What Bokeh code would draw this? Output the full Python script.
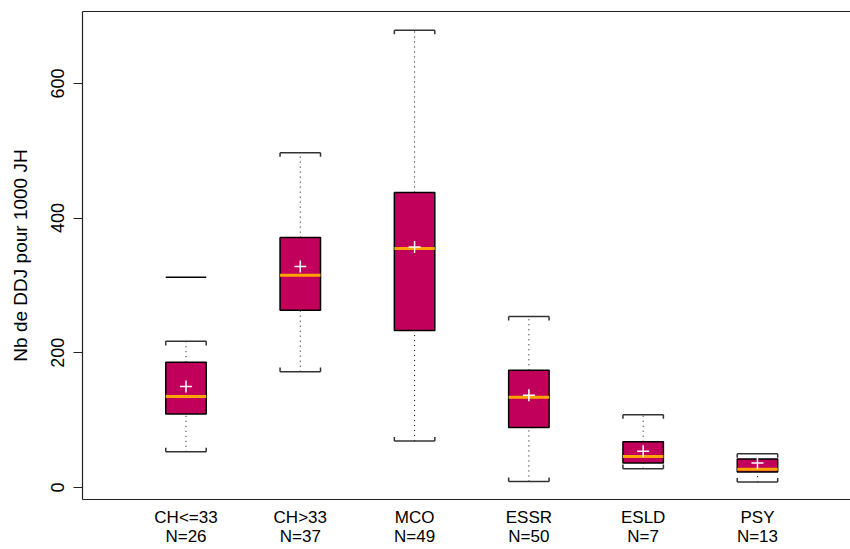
from bokeh.plotting import figure
from bokeh.models import Range1d, FixedTicker, LinearAxis
from bokeh.embed import file_html
from bokeh.resources import INLINE

# ---- data ----
categories = ["CH<=33", "CH>33", "MCO", "ESSR", "ESLD", "PSY"]
counts = [26, 37, 49, 50, 7, 13]
whisker_low = [53, 172, 69, 9, 28, 8]
q1 = [109, 263, 233, 89, 36.5, 23]
median = [135, 315, 355, 134, 46, 27]
q3 = [186, 371, 438, 174, 68, 42.5]
whisker_high = [217, 497, 679, 254, 108, 50]
means = [150, 328, 357, 137, 54, 36.5]
outlier_cat = [1]
outlier_val = [312]
y_ticks = [0, 200, 400, 600]

# ---- style ----
FONT = "Liberation Sans"
FS_X = "17px"
FS_Y = "18px"
FS_YL = "19px"
BOX_W = 0.354
HW = BOX_W / 2
CAP_TICK = 6  # data units for the small bracket ends
FILL = "#C1005B"
MED = "#FFA500"
FRAME = "#222222"

xs = list(range(1, len(categories) + 1))

p = figure(width=850, height=549,
           x_range=Range1d(0.0945, 6.814), y_range=Range1d(-17.8, 706.7),
           output_backend="svg", toolbar_location=None,
           min_border_left=82, min_border_right=0,
           min_border_top=11, min_border_bottom=49)
p.xgrid.visible = False
p.ygrid.visible = False
p.outline_line_color = None
p.background_fill_color = "white"
p.border_fill_color = "white"

# y axis
ya = p.yaxis[0]
ya.ticker = FixedTicker(ticks=y_ticks)
ya.minor_tick_line_color = None
ya.major_tick_in = 0
ya.major_tick_out = 9
ya.major_label_orientation = "vertical"
ya.major_label_standoff = 9
ya.major_label_text_font = FONT
ya.major_label_text_font_size = FS_Y
ya.major_label_text_color = "black"
ya.axis_label = "Nb de DDJ pour 1000 JH"
ya.axis_label_text_font = FONT
ya.axis_label_text_font_size = FS_YL
ya.axis_label_text_font_style = "normal"
ya.axis_label_text_color = "black"
ya.axis_label_standoff = 18
ya.axis_line_color = FRAME
ya.axis_line_width = 1.2
ya.major_tick_line_color = FRAME

# x axis
xa = p.xaxis[0]
xa.ticker = FixedTicker(ticks=xs)
xa.major_label_overrides = {i: f"{c}\nN={n}" for i, c, n in zip(xs, categories, counts)}
xa.minor_tick_line_color = None
xa.major_tick_in = 0
xa.major_tick_out = 0
xa.major_label_standoff = 8
xa.major_label_text_font = FONT
xa.major_label_text_font_size = FS_X
xa.major_label_text_color = "black"
xa.major_label_text_line_height = 1.04
xa.axis_line_color = FRAME
xa.axis_line_width = 1.2

# top frame line
top = LinearAxis(ticker=FixedTicker(ticks=[]), major_tick_out=0, major_tick_in=0,
                 minor_tick_out=0, minor_tick_in=0, major_label_standoff=0,
                 major_label_text_font_size="0px", axis_line_color=FRAME,
                 axis_line_width=1.2)
p.add_layout(top, "above")

# whiskers (dotted)
p.segment(x0=xs, y0=q3, x1=xs, y1=whisker_high, line_color="black",
          line_dash="1 4", line_width=1)
p.segment(x0=xs, y0=whisker_low, x1=xs, y1=q1, line_color="black",
          line_dash="1 4", line_width=1)

# caps (bracket shape)
left = [x - HW for x in xs]
right = [x + HW for x in xs]
p.segment(x0=left, y0=whisker_high, x1=right, y1=whisker_high, line_color="#333333", line_width=1.5)
p.segment(x0=left, y0=whisker_low, x1=right, y1=whisker_low, line_color="#333333", line_width=1.5)
hi_tick = [v - CAP_TICK for v in whisker_high]
lo_tick = [v + CAP_TICK for v in whisker_low]
for xe in (left, right):
    p.segment(x0=xe, y0=whisker_high, x1=xe, y1=hi_tick, line_color="#333333", line_width=1.5)
    p.segment(x0=xe, y0=whisker_low, x1=xe, y1=lo_tick, line_color="#333333", line_width=1.5)

# boxes
p.vbar(x=xs, width=BOX_W, bottom=q1, top=q3, fill_color=FILL,
       line_color="black", line_width=1.5)

# medians
p.segment(x0=left, y0=median, x1=right, y1=median, line_color=MED, line_width=3)

# means
p.scatter(x=xs, y=means, marker="cross", size=12, line_color="white", line_width=1.5)

# outlier
p.segment(x0=[x - HW for x in outlier_cat], y0=outlier_val,
          x1=[x + HW for x in outlier_cat], y1=outlier_val,
          line_color="black", line_width=1.5)

open("out.html", "w").write(file_html(p, INLINE))
